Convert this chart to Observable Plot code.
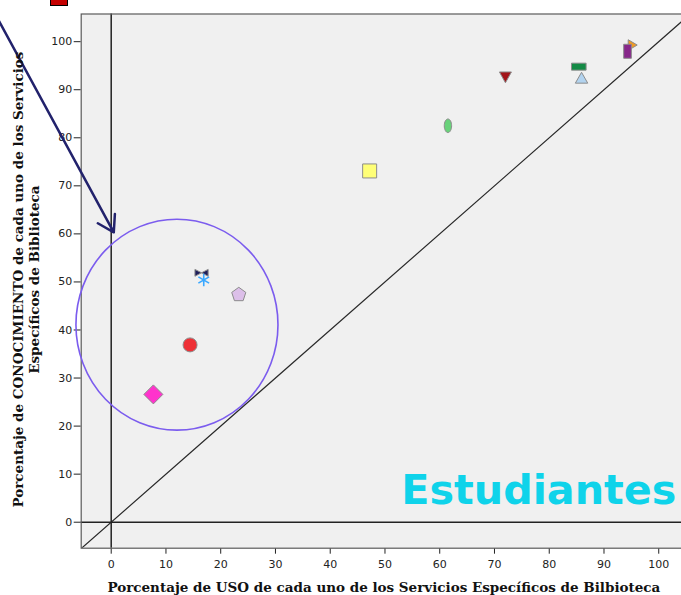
<!DOCTYPE html>
<html><head><meta charset="utf-8">
<script src="https://cdn.jsdelivr.net/npm/d3@7"></script>
<script src="https://cdn.jsdelivr.net/npm/@observablehq/plot@0.6"></script>
<style>
html,body{margin:0;padding:0;overflow:hidden;background:#fff}
#wrap{position:relative;width:681px;height:595px;overflow:hidden}
#legendFrag{position:absolute;left:50px;top:-12px;width:16px;height:16px;background:#c40000;border:1px solid #000;z-index:2}
#wrap svg{position:absolute;left:0;top:0;overflow:hidden;max-width:none !important;width:690px !important;height:595px !important}
</style></head><body><div id="wrap"><div id="legendFrag"></div></div>
<script>
// ---- data ----
const services = ["S1","S2","S3","S4","S5","S6","S7","S8","S9","S10","S11","S12"];
const usoPct   = [7.7, 14.4, 16.5, 16.9, 23.3, 47.2, 61.5, 72.0, 85.4, 85.9, 95.1, 94.3];
const conocPct = [26.6, 36.9, 51.9, 50.4, 47.5, 73.1, 82.5, 92.7, 94.8, 92.4, 99.3, 98.0];
const markerShapes = ["diamond","circle","bowtie","asterisk","pentagon","square","ellipse","triDown","rectH","triUp","triRight","rectV"];
const xTicks = [0,10,20,30,40,50,60,70,80,90,100];
const yTicks = [0,10,20,30,40,50,60,70,80,90,100];
const zeroLines = [0];
const identityLine = [-5.5, 106];
const circleCenter = [12.1, 41.0];
const circleRadii = [18.45, 21.95];
const arrowFrom = [-21, 105.35];
const arrowTo = [0.47, 60.33];
const xTitle = "Porcentaje de USO de cada uno de los Servicios Específicos de Bilbioteca";
const yTitle = "Porcentaje de CONOCIMIENTO de cada uno de los Servicios\nEspecíficos de Biblioteca";
const groupLabel = "Estudiantes";

// ---- styles ----
const markerFills = ["#ff33cc","#ee3036","#1e1e5a","none","#dcbfe9","#ffff77","#69d27a","#a3151a","#138a45","#b2d3ef","#f09a25","#87278a"];
const markerSizes = [9.5, 7, 6.6, 6.2, 7.4, 7, 6.8, 6, 7.3, 6.2, 5.3, 7];

const sym = (f) => ({draw(ctx, size){ const r = Math.sqrt(size/Math.PI); f(ctx, r); }});
const symbols = {
  diamond: sym((c,r)=>{c.moveTo(0,-r);c.lineTo(r,0);c.lineTo(0,r);c.lineTo(-r,0);c.closePath();}),
  circle: sym((c,r)=>{c.moveTo(r,0);c.arc(0,0,r,0,2*Math.PI);c.closePath();}),
  bowtie: sym((c,r)=>{const h=r*0.52;c.moveTo(-r,-h);c.lineTo(0,0);c.lineTo(-r,h);c.closePath();c.moveTo(r,-h);c.lineTo(0,0);c.lineTo(r,h);c.closePath();}),
  asterisk: sym((c,r)=>{const a=r*Math.sqrt(3)/2,b=r/2;c.moveTo(0,r);c.lineTo(0,-r);c.moveTo(-a,-b);c.lineTo(a,b);c.moveTo(-a,b);c.lineTo(a,-b);}),
  pentagon: sym((c,r)=>{for(let k=0;k<5;k++){const t=-Math.PI/2+k*2*Math.PI/5;const x=r*Math.cos(t),y=r*Math.sin(t)+r*0.1;k?c.lineTo(x,y):c.moveTo(x,y);}c.closePath();}),
  square: sym((c,r)=>{c.rect(-r,-r,2*r,2*r);}),
  ellipse: sym((c,r)=>{const a=r*0.54,b=r,k=0.5523;
    c.moveTo(a,0);
    c.bezierCurveTo(a,k*b,k*a,b,0,b);
    c.bezierCurveTo(-k*a,b,-a,k*b,-a,0);
    c.bezierCurveTo(-a,-k*b,-k*a,-b,0,-b);
    c.bezierCurveTo(k*a,-b,a,-k*b,a,0);
    c.closePath();}),
  triDown: sym((c,r)=>{c.moveTo(-r,-0.8*r);c.lineTo(r,-0.8*r);c.lineTo(0,r);c.closePath();}),
  triUp: sym((c,r)=>{c.moveTo(0,-0.95*r);c.lineTo(r,0.8*r);c.lineTo(-r,0.8*r);c.closePath();}),
  triRight: sym((c,r)=>{c.moveTo(-0.7*r,-r);c.lineTo(r,0);c.lineTo(-0.7*r,r);c.closePath();}),
  rectH: sym((c,r)=>{c.rect(-r,-0.48*r,2*r,0.96*r);}),
  rectV: sym((c,r)=>{c.rect(-0.55*r,-r,1.1*r,2*r);})
};

const serif = "DejaVu Serif";
const W = 690, H = 595;

const pointMarks = services.map((s, i) => Plot.dot([i], {
  x: j => usoPct[j], y: j => conocPct[j],
  symbol: symbols[markerShapes[i]], r: markerSizes[i],
  fill: markerFills[i],
  stroke: markerShapes[i] === "asterisk" ? "#3aa8ff" : "#8c8c8c",
  strokeWidth: markerShapes[i] === "asterisk" ? 1.6 : 1
}));

const ellipseMark = (index, scales) => {
  const cx = scales.x(circleCenter[0]), cy = scales.y(circleCenter[1]);
  const rx = scales.x(circleCenter[0] + circleRadii[0]) - cx;
  const ry = cy - scales.y(circleCenter[1] + circleRadii[1]);
  return d3.create("svg:ellipse").attr("cx", cx).attr("cy", cy).attr("rx", rx).attr("ry", ry)
    .attr("fill", "none").attr("stroke", "#7b5cee").attr("stroke-width", 1.6).node();
};

const chart = Plot.plot({
  width: W, height: H,
  marginLeft: 80.7, marginRight: 0, marginTop: 13.5, marginBottom: 47.3,
  style: {fontFamily: "DejaVu Sans", fontSize: "11px", background: "transparent", color: "#222", overflow: "hidden"},
  x: {domain: [-5.48, 105.8], ticks: xTicks, tickSize: 6, tickPadding: 6, label: null},
  y: {domain: [-5.41, 105.76], ticks: yTicks, tickSize: 7, tickPadding: 2, label: null},
  marks: [
    Plot.frame({fill: "#f0f0f0"}),
    Plot.line(identityLine, {x: d => d, y: d => d, stroke: "#2a2a2a", strokeWidth: 1.2, clip: true}),
    Plot.ruleX(zeroLines, {stroke: "#222", strokeWidth: 1.5}),
    Plot.ruleY(zeroLines, {stroke: "#222", strokeWidth: 1.5}),
    Plot.frame({stroke: "#5a5a5a", strokeWidth: 1.2}),
    ...pointMarks,
    ellipseMark,
    Plot.arrow([0], {x1: () => arrowFrom[0], y1: () => arrowFrom[1], x2: () => arrowTo[0], y2: () => arrowTo[1],
      stroke: "#22226c", strokeWidth: 2.5, headLength: 11, headAngle: 64}),
    Plot.text([groupLabel], {frameAnchor: "bottom-left", dx: 320, dy: -44.4, textAnchor: "start", lineAnchor: "bottom",
      fill: "#0fd3ea", fontSize: 41.3, fontWeight: "bold", fontFamily: "DejaVu Sans"}),
    Plot.text([xTitle], {frameAnchor: "bottom", dx: -2, dy: 43.5, lineAnchor: "bottom",
      fontFamily: serif, fontWeight: "bold", fontSize: 13.5, fill: "#111"}),
    Plot.text([yTitle], {frameAnchor: "left", dx: -42, dy: -1.5, rotate: -90, textAnchor: "middle", lineAnchor: "bottom", lineHeight: 1.19,
      fontFamily: serif, fontWeight: "bold", fontSize: 13.5, fill: "#111"})
  ]
});
document.getElementById("wrap").prepend(chart);
</script>
</body></html>
